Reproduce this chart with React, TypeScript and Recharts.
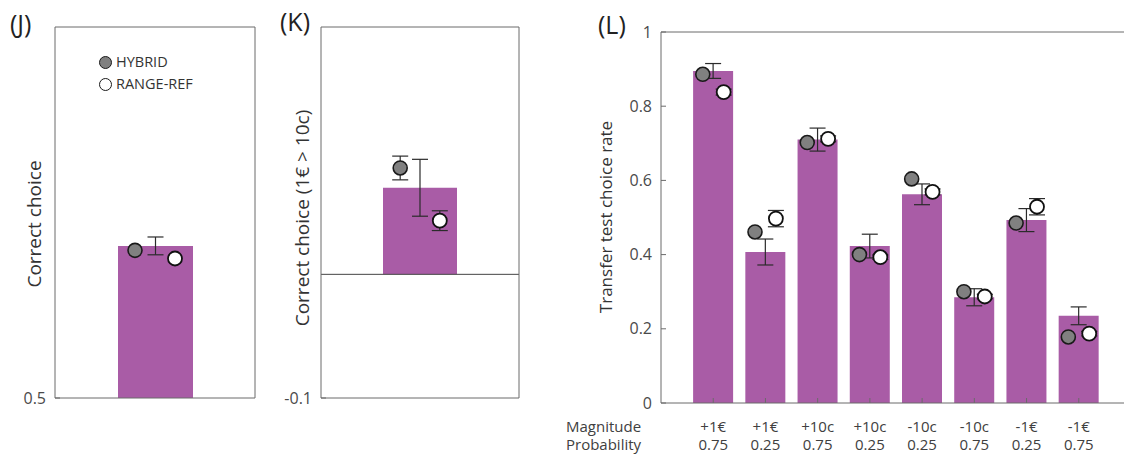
import React from 'react'
import {
  ComposedChart, Bar, Scatter, XAxis, YAxis, ErrorBar, ReferenceLine,
} from 'recharts'

const FONT = '"Open Sans", "Noto Sans", sans-serif'
const PURPLE = '#a95ca6'
const AXIS = '#6b6b6b'
const OFFSET = 0.2
const TICK = 5

// (J) correct choice
const jBar = [0.705]
const jBarErr = [0.012]
const jHybrid = [0.699]
const jRangeRef = [0.688]

// (K) correct choice (1€ > 10c)
const kBar = [0.07]
const kBarErr = [0.023]
const kHybrid = [0.086]
const kHybridErr = [0.0096]
const kRangeRef = [0.0434]
const kRangeRefErr = [0.008]

// (L) transfer test
const magnitudes = ['+1€', '+1€', '+10c', '+10c', '-10c', '-10c', '-1€', '-1€']
const probabilities = ['0.75', '0.25', '0.75', '0.25', '0.25', '0.75', '0.25', '0.75']
const lBar = [0.895, 0.407, 0.71, 0.423, 0.5625, 0.285, 0.493, 0.235]
const lBarErr = [0.02, 0.035, 0.031, 0.032, 0.028, 0.023, 0.031, 0.024]
const lHybrid = [0.886, 0.461, 0.702, 0.4, 0.604, 0.3, 0.485, 0.178]
const lRangeRef = [0.838, 0.497, 0.712, 0.393, 0.569, 0.287, 0.529, 0.187]
const lRangeRefErr = [0.008, 0.022, 0.008, 0.006, 0.008, 0.006, 0.022, 0.006]
const lYTicks = [0, 0.2, 0.4, 0.6, 0.8, 1]

const mkBars = (vals: number[], errs: number[]) =>
  vals.map((v, i) => ({ x: i + 1, value: v, err: errs[i] }))
const mkPts = (vals: number[], shift: number, errs?: number[]) =>
  vals.map((v, i) => ({ x: i + 1 + shift, y: v, err: errs ? errs[i] : 0 }))

const greyDot = (p: any) => (
  <circle cx={p.cx} cy={p.cy} r={7} fill="#808080" stroke="#1a1a1a" strokeWidth={1.6} />
)
const whiteDot = (p: any) => (
  <circle cx={p.cx} cy={p.cy} r={7} fill="#ffffff" stroke="#111" strokeWidth={1.8} />
)

// mirrored axes draw ticks inward; labels are pushed back outside here
const LTick = (p: any) => {
  const i = Math.round(p.payload.value) - 1
  const style = { fontFamily: FONT, fontSize: 15, fill: '#404040' }
  return (
    <g>
      <text x={p.x} y={p.y + 34} textAnchor="middle" style={style}>{magnitudes[i]}</text>
      <text x={p.x} y={p.y + 52} textAnchor="middle" style={style}>{probabilities[i]}</text>
    </g>
  )
}

const YTick = (p: any) => (
  <text x={p.x - 14} y={p.y} dy="0.355em" textAnchor="end"
    style={{ fontFamily: FONT, fontSize: 16, fill: '#4a4a4a' }}>
    {String(p.payload.value)}
  </text>
)

interface PanelProps {
  width: number
  margin: { top: number; right: number; bottom: number; left: number }
  xDomain: [number, number]
  xTicks: number[]
  yDomain: [number, number]
  yTicks: number[]
  bars: any[]
  hybrid: any[]
  rangeRef: any[]
  barSize: number
  xTick?: any
  zeroLine?: boolean
}

function Panel(p: PanelProps) {
  return (
    <ComposedChart width={p.width} height={455} data={p.bars} margin={p.margin}>
      <XAxis xAxisId="b" type="number" dataKey="x" domain={p.xDomain} ticks={p.xTicks}
        allowDataOverflow orientation="bottom" height={1} stroke={AXIS} mirror
        tickSize={TICK} tickMargin={0} tick={p.xTick ?? false} interval={0} />
      <XAxis xAxisId="t" type="number" dataKey="x" domain={p.xDomain} ticks={p.xTicks}
        allowDataOverflow orientation="top" height={1} stroke={AXIS} mirror
        tickSize={TICK} tick={false} interval={0} />
      <XAxis xAxisId="s" type="number" dataKey="x" domain={p.xDomain} allowDataOverflow hide />
      <YAxis yAxisId="l" type="number" domain={p.yDomain} ticks={p.yTicks} allowDataOverflow
        width={1} stroke={AXIS} mirror tickSize={TICK} tickMargin={0} interval={0}
        tick={YTick} />
      <YAxis yAxisId="r" type="number" orientation="right" domain={p.yDomain} ticks={p.yTicks}
        allowDataOverflow width={1} stroke={AXIS} mirror tickSize={TICK} tick={false} interval={0} />
      {p.zeroLine && (
        <ReferenceLine xAxisId="b" yAxisId="l" y={0} stroke="#444" strokeWidth={1} />
      )}
      <Bar xAxisId="b" yAxisId="l" dataKey="value" fill={PURPLE} barSize={p.barSize}
        isAnimationActive={false}>
        <ErrorBar dataKey="err" width={8} stroke="#2b2b2b" strokeWidth={1.2} direction="y" />
      </Bar>
      <Scatter xAxisId="s" yAxisId="l" data={p.hybrid} dataKey="y" shape={greyDot}
        isAnimationActive={false}>
        <ErrorBar dataKey="err" width={8} stroke="#2b2b2b" strokeWidth={1.2} direction="y" />
      </Scatter>
      <Scatter xAxisId="s" yAxisId="l" data={p.rangeRef} dataKey="y" shape={whiteDot}
        isAnimationActive={false}>
        <ErrorBar dataKey="err" width={8} stroke="#2b2b2b" strokeWidth={1.2} direction="y" />
      </Scatter>
    </ComposedChart>
  )
}

const VLabel = ({ cx, cy, text, size }: { cx: number; cy: number; text: string; size: number }) => (
  <div style={{
    position: 'absolute', left: cx, top: cy, whiteSpace: 'nowrap',
    transform: 'translate(-50%, -50%) rotate(-90deg)',
    fontFamily: FONT, fontSize: size, color: '#333', lineHeight: 1,
  }}>{text}</div>
)

const Txt = ({ x, y, text, size, color = '#333', lh = 20 }: any) => (
  <div style={{
    position: 'absolute', left: x, top: y, whiteSpace: 'nowrap',
    fontFamily: FONT, fontSize: size, color, lineHeight: `${lh}px`,
  }}>{text}</div>
)

const LegendDot = ({ x, y, fill }: any) => (
  <div style={{
    position: 'absolute', left: x - 6.5, top: y - 6.5, width: 13, height: 13,
    boxSizing: 'border-box', borderRadius: '50%', background: fill,
    border: '1.6px solid #1a1a1a',
  }} />
)

export default function App() {
  return (
    <div style={{
      position: 'absolute', left: 0, top: 0, width: 1124, height: 455,
      overflow: 'hidden', background: '#fff',
    }}>
      <div style={{ position: 'absolute', left: 0, top: 0 }}>
        <Panel width={270} margin={{ top: 27, right: 15, bottom: 57, left: 55 }}
          xDomain={[0, 2]} xTicks={[0, 1, 2]} yDomain={[0.5, 1]} yTicks={[0.5]}
          bars={mkBars(jBar, jBarErr)} hybrid={mkPts(jHybrid, -OFFSET)}
          rangeRef={mkPts(jRangeRef, OFFSET)} barSize={75} />
      </div>
      <div style={{ position: 'absolute', left: 280, top: 0 }}>
        <Panel width={250} margin={{ top: 27, right: 11, bottom: 57, left: 41 }}
          xDomain={[0, 2]} xTicks={[0, 1, 2]} yDomain={[-0.1, 0.2]} yTicks={[-0.1]}
          bars={mkBars(kBar, kBarErr)} hybrid={mkPts(kHybrid, -OFFSET, kHybridErr)}
          rangeRef={mkPts(kRangeRef, OFFSET, kRangeRefErr)} barSize={74} zeroLine />
      </div>
      <div style={{ position: 'absolute', left: 560, top: 0 }}>
        <Panel width={580} margin={{ top: 32, right: 9, bottom: 52, left: 101 }}
          xDomain={[0, 9]} xTicks={[1, 2, 3, 4, 5, 6, 7, 8]} yDomain={[0, 1]} yTicks={lYTicks}
          bars={mkBars(lBar, lBarErr)} hybrid={mkPts(lHybrid, -OFFSET)}
          rangeRef={mkPts(lRangeRef, OFFSET, lRangeRefErr)} barSize={40} xTick={LTick} />
      </div>

      <Txt x={10} y={9} text="(J)" size={25} color="#222" lh={28} />
      <Txt x={280} y={7} text="(K)" size={25} color="#222" lh={28} />
      <Txt x={598} y={10} text="(L)" size={25} color="#222" lh={28} />

      <VLabel cx={34} cy={224} text="Correct choice" size={19} />
      <VLabel cx={302} cy={218} text="Correct choice (1€ > 10c)" size={19} />
      <VLabel cx={605} cy={217} text="Transfer test choice rate" size={17} />

      <LegendDot x={105} y={62} fill="#808080" />
      <LegendDot x={105} y={84} fill="#ffffff" />
      <Txt x={116} y={52} text="HYBRID" size={14.5} />
      <Txt x={116} y={74} text="RANGE-REF" size={14.5} />

      <Txt x={566} y={418} text="Magnitude" size={15} color="#404040" lh={17} />
      <Txt x={566} y={436} text="Probability" size={15} color="#404040" lh={17} />
    </div>
  )
}
